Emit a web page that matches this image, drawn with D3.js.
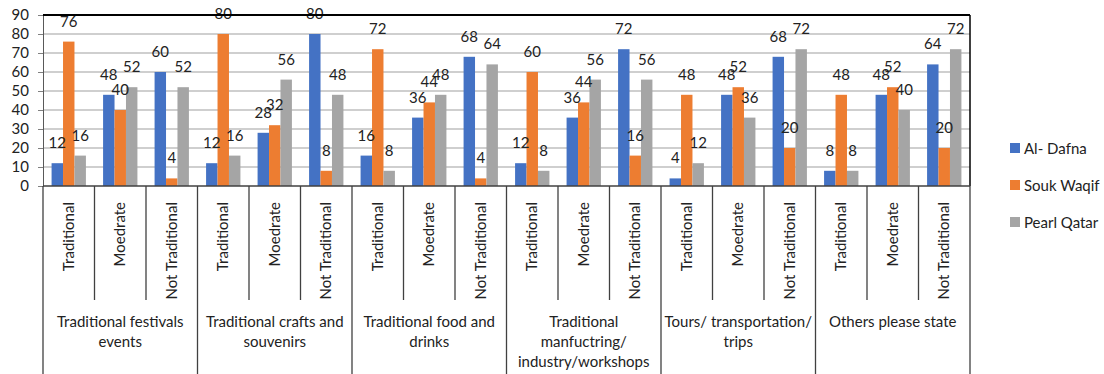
<!DOCTYPE html>
<html>
<head>
<meta charset="utf-8">
<script src="https://cdn.jsdelivr.net/npm/d3@7"></script>
<style>
  html, body { margin: 0; padding: 0; background: #fff; }
  svg { display: block; font-family: Lato, "Noto Sans", sans-serif; }
</style>
</head>
<body>
<svg id="chart" width="1104" height="374"></svg>
<script>
const groups = [
  ["Traditional festivals", "events"],
  ["Traditional crafts and", "souvenirs"],
  ["Traditional food and", "drinks"],
  ["Traditional", "manfuctring/", "industry/workshops"],
  ["Tours/ transportation/", "trips"],
  ["Others please state"]
];
const levels = ["Traditional", "Moedrate", "Not Traditional"];
const series = ["Al- Dafna", "Souk Waqif", "Pearl Qatar"];
const colors = ["#4472C4", "#ED7D31", "#A5A5A5"];
const alDafna   = [12, 48, 60, 12, 28, 80, 16, 36, 68, 12, 36, 72, 4, 48, 68, 8, 48, 64];
const soukWaqif = [76, 40, 4, 80, 32, 8, 72, 44, 4, 60, 44, 16, 48, 52, 20, 48, 52, 20];
const pearlQatar= [16, 52, 52, 16, 56, 48, 8, 48, 64, 8, 56, 56, 12, 36, 72, 8, 40, 72];
const yTicks = [0, 10, 20, 30, 40, 50, 60, 70, 80, 90];

const values = [alDafna, soukWaqif, pearlQatar];
const cats = [];
groups.forEach((g, gi) => levels.forEach((l, li) => cats.push({ id: gi + "-" + li, g: gi, level: l })));

const svg = d3.select("#chart");
const L = 43, R = 970, T = 15, B = 186;

const x0 = d3.scaleBand().domain(cats.map(c => c.id)).range([L, R]).paddingInner(0).paddingOuter(0);
const bw = x0.bandwidth();
const barW = bw / 4.5;
const x1 = d3.scaleBand().domain(series).range([0.75 * barW, bw - 0.75 * barW]).padding(0);
const y = d3.scaleLinear().domain([0, 90]).range([B, T]);

// gridlines
svg.append("g").selectAll("line").data(yTicks.filter(t => t > 0)).join("line")
  .attr("x1", L).attr("x2", R).attr("y1", d => y(d)).attr("y2", d => y(d))
  .attr("stroke", "#BFBFBF").attr("stroke-width", 1.5);

// y axis
const yAxis = svg.append("g").attr("transform", `translate(${L},0)`)
  .call(d3.axisLeft(y).tickValues(yTicks).tickSize(5).tickPadding(9));
yAxis.select(".domain").attr("stroke", "#595959");
yAxis.selectAll(".tick line").attr("stroke", "#808080");
yAxis.selectAll("text").attr("font-size", 15).attr("fill", "#222").attr("font-family", "Lato, sans-serif");

// bars
const cg = svg.append("g").selectAll("g").data(cats).join("g")
  .attr("transform", d => `translate(${x0(d.id)},0)`);
series.forEach((s, si) => {
  cg.append("rect")
    .attr("x", x1(s)).attr("width", x1.bandwidth())
    .attr("y", (d, i) => y(values[si][cats.indexOf(d)]))
    .attr("height", (d) => B - y(values[si][cats.indexOf(d)]))
    .attr("fill", colors[si]);
});
// labels
series.forEach((s, si) => {
  cg.append("text")
    .attr("x", x1(s) + x1.bandwidth() / 2)
    .attr("y", d => y(values[si][cats.indexOf(d)]) - 15)
    .attr("text-anchor", "middle")
    .attr("font-size", 15).attr("fill", "#222")
    .text(d => values[si][cats.indexOf(d)]);
});

// plot border
svg.append("line").attr("x1", L).attr("x2", R).attr("y1", T).attr("y2", T).attr("stroke", "#000").attr("stroke-width", 2);
svg.append("line").attr("x1", R).attr("x2", R).attr("y1", T).attr("y2", B).attr("stroke", "#000").attr("stroke-width", 1.5);

// category axis
svg.append("line").attr("x1", L).attr("x2", R).attr("y1", B).attr("y2", B).attr("stroke", "#404040").attr("stroke-width", 1.5);
const edges = cats.map((c, i) => ({ x: x0(c.id), major: i % 3 === 0 })).concat([{ x: R, major: true }]);
svg.append("g").selectAll("line").data(edges).join("line")
  .attr("x1", d => d.x).attr("x2", d => d.x)
  .attr("y1", B).attr("y2", d => d.major ? 374 : 300)
  .attr("stroke", "#404040").attr("stroke-width", 1.3);

// rotated level labels
svg.append("g").selectAll("text").data(cats).join("text")
  .attr("transform", d => `translate(${x0(d.id) + bw / 2 + 5},202) rotate(-90)`)
  .attr("text-anchor", "end")
  .attr("font-size", 15).attr("fill", "#222")
  .text(d => d.level);

// group labels
const groupW = bw * 3;
const gl = svg.append("g").selectAll("text").data(groups).join("text")
  .attr("text-anchor", "middle")
  .attr("font-size", 15).attr("fill", "#222");
gl.each(function(d, gi) {
  const t = d3.select(this);
  d.forEach((line, li) => {
    t.append("tspan").attr("x", L + groupW * gi + groupW / 2).attr("y", 327 + li * 20).text(line);
  });
});

// legend
const lg = svg.append("g").selectAll("g").data(series).join("g")
  .attr("transform", (d, i) => `translate(1010,${148 + i * 37})`);
lg.append("rect").attr("x", 0).attr("y", -5).attr("width", 10).attr("height", 10)
  .attr("fill", (d, i) => colors[i]);
lg.append("text").attr("x", 14).attr("y", 5.5).attr("font-size", 15).attr("fill", "#222").text(d => d);
</script>
</body>
</html>
